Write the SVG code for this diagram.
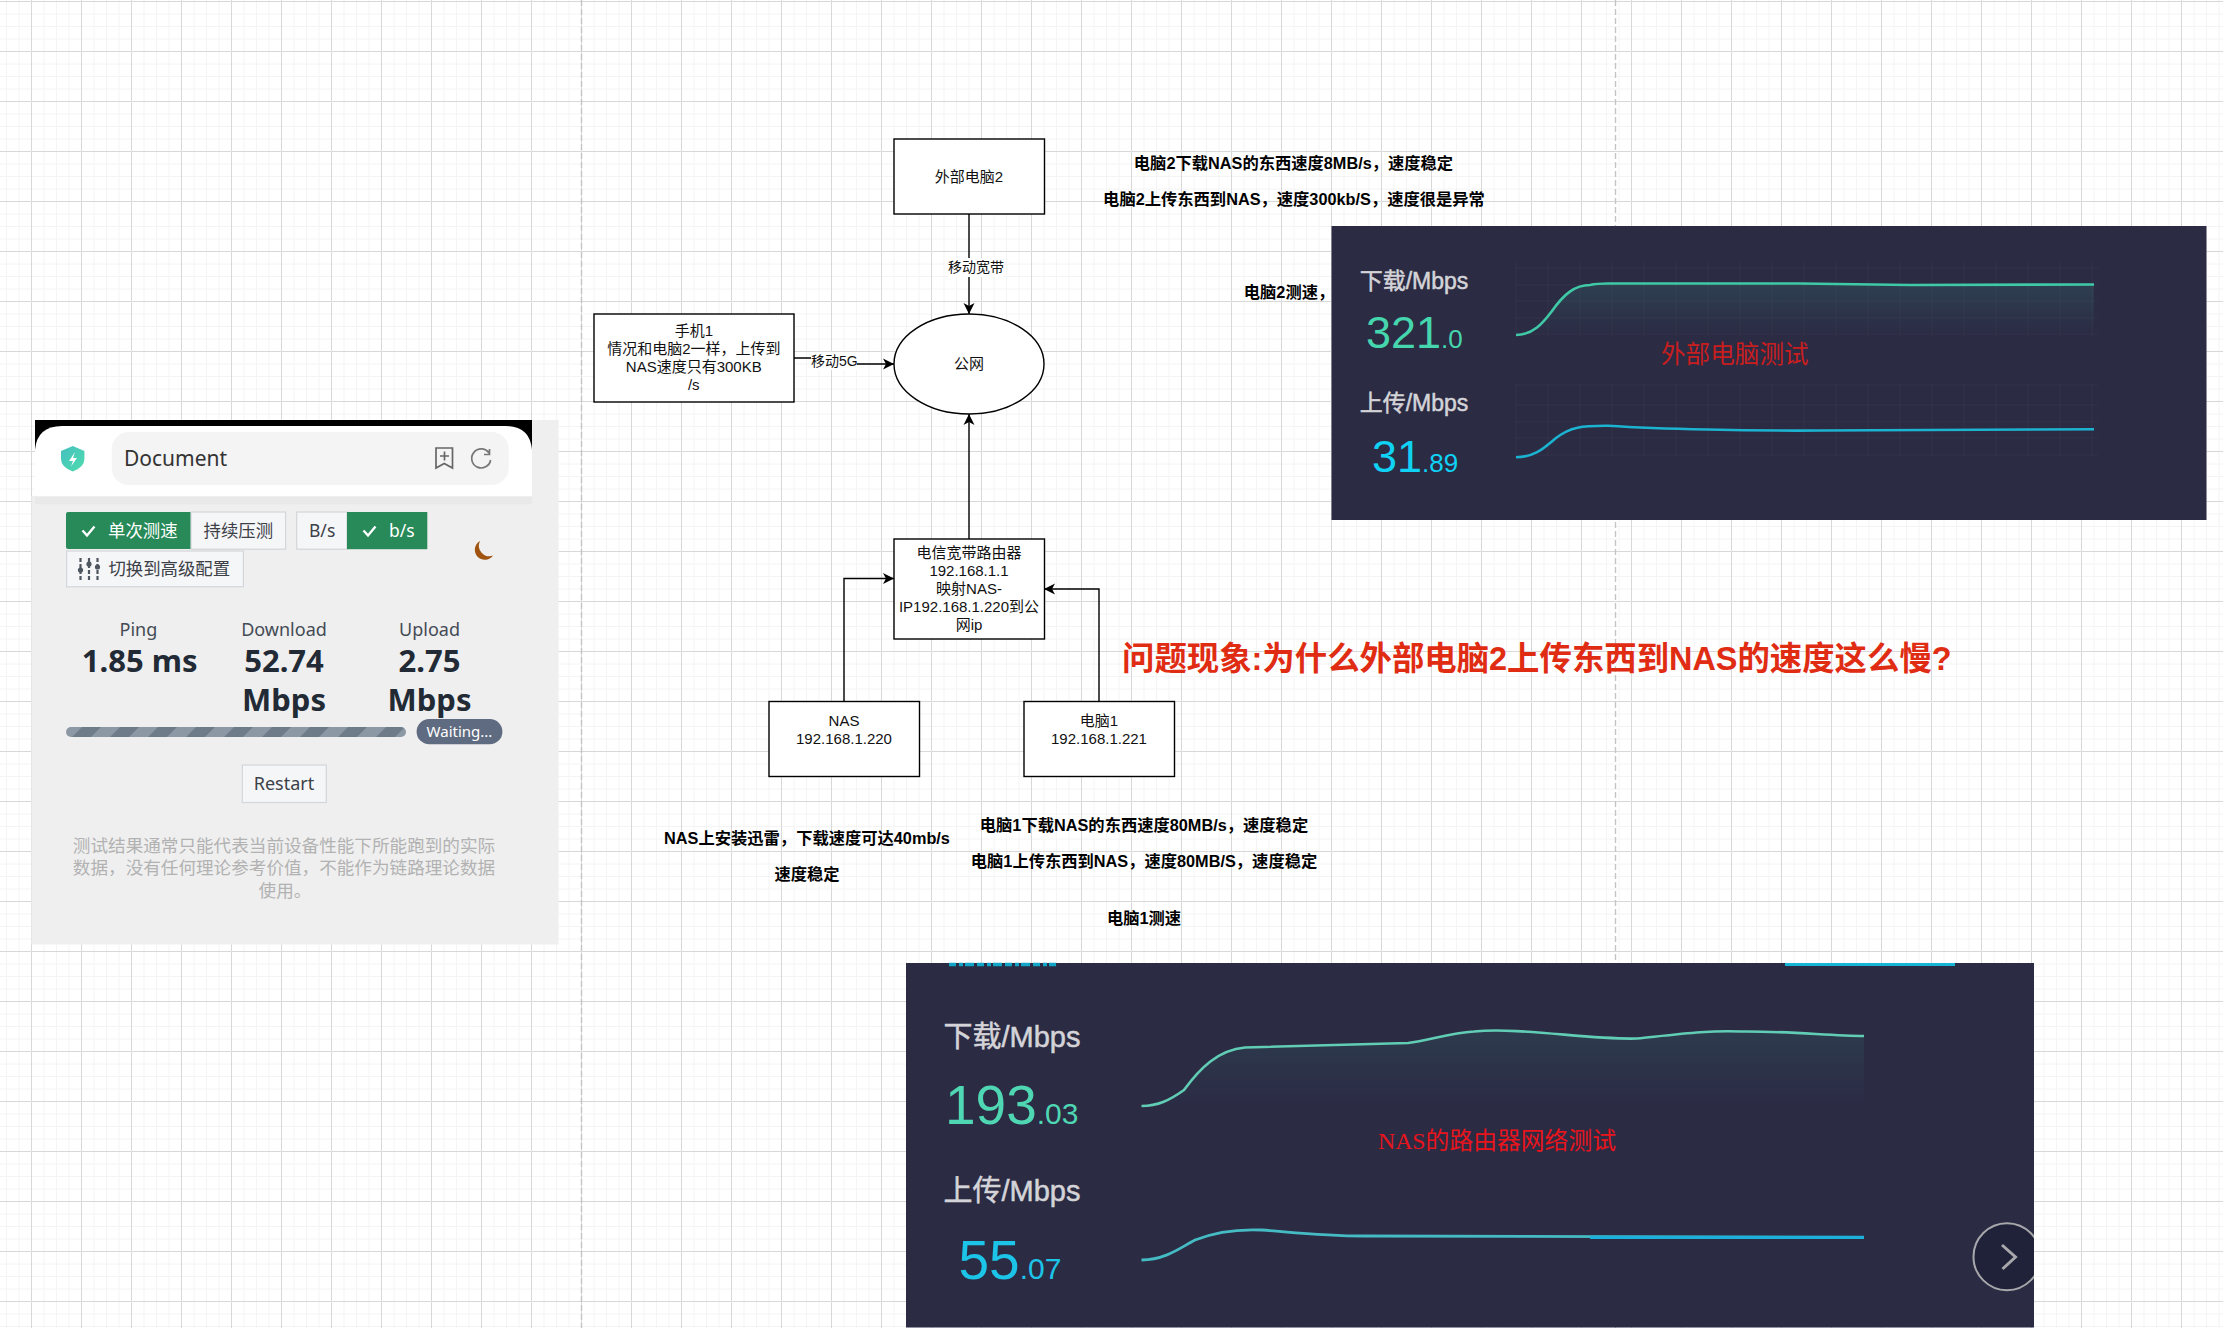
<svg xmlns="http://www.w3.org/2000/svg" width="2223" height="1328" viewBox="0 0 2223 1328">
<style>
text{font-family:"Liberation Sans","Noto Sans CJK SC",sans-serif;fill:#000}
.box{fill:#fff;stroke:#000;stroke-width:1.4}
.t{font-size:15px;text-anchor:middle;fill:#111}
.b{font-size:16.3px;font-weight:700;text-anchor:middle;fill:#000}
.e{fill:none;stroke:#000;stroke-width:1.4;marker-end:url(#arr)}
.el{font-size:14px;text-anchor:middle;fill:#111}
.panel{fill:#2b2b44}
.c{text-anchor:middle;fill:#d4d4d8;stroke:#d4d4d8;stroke-width:.5}
.g{font-family:"Noto Sans","Noto Sans CJK SC",sans-serif}
.btn{fill:#f5f6f8;stroke:#d3d6da;stroke-width:1.2}
.grn{fill:#278a58}
.bt{font-size:17.4px;fill:#3c4148}
.wt{font-size:17.4px;fill:#fff}
.chk{fill:none;stroke:#fff;stroke-width:2.4}
.lb{font-size:18px;text-anchor:middle;fill:#444b55}
.val{font-size:30px;font-weight:700;text-anchor:middle;fill:#222a35}
.note{font-size:17.6px;text-anchor:middle;fill:#b2b2b2}
.fg{fill:none;stroke:#fff;stroke-opacity:.03;stroke-width:1}
.tc{fill:none;stroke:#3fc9a6;stroke-width:2.6}
.cc{fill:none;stroke:#1cb3d0;stroke-width:2.6}
</style>
<defs>
<pattern id="grid" patternUnits="userSpaceOnUse" x="31" y="1" width="50" height="50">
<path d="M12.5 0V50M25 0V50M37.5 0V50M0 12.5H50M0 25H50M0 37.5H50" stroke="#f4f4f4" stroke-width="1" fill="none" transform="translate(.5 .5)"/>
<path d="M0 0V50M0 0H50" stroke="#d8d8d8" stroke-width="1" fill="none" transform="translate(.5 .5)"/>
</pattern>
<pattern id="stripe" patternUnits="userSpaceOnUse" x="66" y="727" width="38" height="10">
<rect width="38" height="10" fill="#8d98a5"/>
<polygon points="6,10 16,0 35,0 25,10" fill="#6e7c8a"/>
</pattern>
<marker id="arr" markerUnits="userSpaceOnUse" markerWidth="12" markerHeight="12" viewBox="0 0 12 12" refX="11" refY="6" orient="auto">
<path d="M0 .5L11 6L0 11.5L3 6Z" fill="#000"/>
</marker>
<linearGradient id="fade1" x1="0" y1="0" x2="0" y2="1"><stop offset="0" stop-color="#3fc9a6" stop-opacity=".13"/><stop offset="1" stop-color="#3fc9a6" stop-opacity="0"/></linearGradient>
<linearGradient id="fade3" x1="0" y1="0" x2="0" y2="1"><stop offset="0" stop-color="#3fc9a6" stop-opacity=".1"/><stop offset="1" stop-color="#3fc9a6" stop-opacity="0"/></linearGradient>
<linearGradient id="shield" x1="0" y1="0" x2="1" y2="1"><stop offset="0" stop-color="#45bfc0"/><stop offset="1" stop-color="#4fdcae"/></linearGradient>
<clipPath id="p2clip"><rect x="906" y="963" width="1128" height="365"/></clipPath>
</defs>

<rect width="2223" height="1328" fill="#fff"/>
<rect width="2223" height="1328" fill="url(#grid)"/>
<path d="M581.5 0V1328M1615.5 0V1328" stroke="#c4c4c4" stroke-width="1.4" stroke-dasharray="6 3" fill="none"/>

<g id="speedtest-card">
<path d="M35 420H558.6V944.6H31.4V496H35Z" fill="#efefef"/>
<rect x="35" y="420" width="497" height="30" fill="#000"/>
<path d="M35 496.4V450Q37 426 62 426H505Q530 426 532 450V496.4Z" fill="#fff"/>
<rect x="35" y="496.4" width="497" height="8" fill="#e4e4e4" opacity=".6"/>
<rect x="111.7" y="432" width="397" height="53" rx="17" fill="#f4f4f4"/>
<path d="M72.8 446L84.4 451V459Q84.4 467 72.8 471.6Q61 467 61 459V451Z" fill="url(#shield)"/>
<path d="M75 452L69 461H73L71 466.5L77 458H73Z" fill="#fff"/>
<text class="g" x="124" y="466" font-size="21" style="fill:#333">Document</text>
<path d="M436 448H452.5V468L444.2 463.5L436 468Z M440 456H449M444.5 451.5V460.5" fill="none" stroke="#666" stroke-width="1.7"/>
<path d="M489 453A9.5 9.5 0 1 0 490.6 460M489.5 449V454.5H484" fill="none" stroke="#777" stroke-width="1.7"/>
<path class="grn" d="M68 512H191V549H68Q66 549 66 547V514Q66 512 68 512Z"/>
<path class="chk" d="M82.5 530.5L87 535.5L94.5 526.5"/>
<text class="wt" x="108" y="537">单次测速</text>
<rect class="btn" x="191" y="512" width="94.6" height="37.2"/>
<text class="bt" x="203.5" y="537">持续压测</text>
<rect class="btn" x="296.7" y="512" width="50.3" height="37.2"/>
<text class="g bt" x="309" y="537" style="font-size:17.5px">B/s</text>
<rect class="grn" x="347" y="512" width="80.3" height="37.2"/>
<path class="chk" d="M363.5 530.5L368 535.5L375.5 526.5"/>
<text class="g wt" x="389" y="537" style="font-size:17.5px">b/s</text>
<rect class="btn" x="66.6" y="551" width="176.8" height="35.8"/>
<path d="M80.5 558V580M89 558V580M97.5 558V580" stroke="#4e5660" stroke-width="2.2" stroke-dasharray="4 2" fill="none"/>
<circle cx="80.5" cy="570" r="2.6" fill="#4e5660"/><circle cx="89" cy="564" r="2.6" fill="#4e5660"/><circle cx="97.5" cy="567" r="2.6" fill="#4e5660"/>
<text class="bt" x="108.4" y="575">切换到高级配置</text>
<path d="M480 541A10 10 0 1 0 493 555.5A10.5 10.5 0 0 1 480 541Z" fill="#a0540f"/>
<text class="g lb" x="138.4" y="636">Ping</text>
<text class="g lb" x="284" y="636">Download</text>
<text class="g lb" x="429.5" y="636">Upload</text>
<text class="g val" x="139.7" y="672" style="font-size:31px">1.85 ms</text>
<text class="g val" x="284" y="672" style="font-size:31px">52.74</text>
<text class="g val" x="284" y="711" style="font-size:31px">Mbps</text>
<text class="g val" x="429.5" y="672" style="font-size:31px">2.75</text>
<text class="g val" x="429.5" y="711" style="font-size:31px">Mbps</text>
<rect x="66" y="727" width="340" height="10" rx="5" fill="url(#stripe)"/>
<rect x="416.6" y="719" width="85.8" height="25.3" rx="12.6" fill="#5f6b80"/>
<text class="g" x="459.5" y="737" font-size="15" text-anchor="middle" style="fill:#fff">Waiting...</text>
<rect class="btn" x="242.3" y="765" width="84" height="37.5"/>
<text class="g" x="284" y="790" font-size="18" text-anchor="middle" style="fill:#3c4148">Restart</text>
<text class="note" x="284" y="851.5">测试结果通常只能代表当前设备性能下所能跑到的实际</text>
<text class="note" x="284" y="874">数据，没有任何理论参考价值，不能作为链路理论数据</text>
<text class="note" x="285" y="896.5">使用。</text>
</g>

<g id="connectors">
<path class="e" d="M969 214V314"/>
<path class="e" d="M794 358H844V364H894"/>
<path class="e" d="M969 539V414"/>
<path class="e" d="M844 701.5V578.5H894"/>
<path class="e" d="M1099 701.5V589H1044"/>
<rect x="948" y="258" width="56" height="19" fill="#fff"/>
<text class="el" x="976" y="272">移动宽带</text>
<rect x="811" y="352" width="46" height="18" fill="#fff"/>
<text class="el" x="834.4" y="366">移动5G</text>
</g>

<g id="node-pc2"><rect class="box" x="894" y="139" width="150.5" height="75"/><text class="t" x="969" y="182">外部电脑2</text></g>
<g id="node-phone"><rect class="box" x="594" y="314" width="200" height="88"/>
<text class="t" x="693.8" y="336">手机1</text><text class="t" x="693.8" y="354">情况和电脑2一样，上传到</text><text class="t" x="693.8" y="372">NAS速度只有300KB</text><text class="t" x="693.8" y="390">/s</text></g>
<g id="node-internet"><ellipse class="box" cx="969" cy="364" rx="75" ry="50"/><text class="t" x="969" y="369">公网</text></g>
<g id="node-router"><rect class="box" x="894" y="539" width="150.5" height="100"/>
<text class="t" x="969" y="558">电信宽带路由器</text><text class="t" x="969" y="576">192.168.1.1</text><text class="t" x="969" y="594">映射NAS-</text><text class="t" x="969" y="612">IP192.168.1.220到公</text><text class="t" x="969" y="630">网ip</text></g>
<g id="node-nas"><rect class="box" x="769" y="701.5" width="150.5" height="75"/><text class="t" x="844" y="726">NAS</text><text class="t" x="844" y="744">192.168.1.220</text></g>
<g id="node-pc1"><rect class="box" x="1024" y="701.5" width="150.5" height="75"/><text class="t" x="1099" y="726">电脑1</text><text class="t" x="1099" y="744">192.168.1.221</text></g>

<g id="notes">
<text class="b" x="1293.5" y="169">电脑2下载NAS的东西速度8MB/s，速度稳定</text>
<text class="b" x="1294" y="205">电脑2上传东西到NAS，速度300kb/S，速度很是异常</text>
<text class="b" x="1289" y="298">电脑2测速，</text>
<text class="b" x="807" y="844">NAS上安装迅雷，下载速度可达40mb/s</text>
<text class="b" x="807" y="880">速度稳定</text>
<text class="b" x="1144" y="831">电脑1下载NAS的东西速度80MB/s，速度稳定</text>
<text class="b" x="1144" y="867">电脑1上传东西到NAS，速度80MB/S，速度稳定</text>
<text class="b" x="1144" y="924">电脑1测速</text>
<text x="1122" y="670" font-size="32.4" font-weight="700" style="fill:#e02c12">问题现象:为什么外部电脑2上传东西到NAS的速度这么慢?</text>
</g>

<g id="panel-external">
<rect class="panel" x="1331.5" y="226" width="875" height="294"/>
<path class="fg" d="M1516 268H2098M1516 285H2098M1516 301H2098M1516 318H2098M1516 334H2098M1516 385H2098M1516 405H2098M1516 422H2098M1516 438H2098M1516 455H2098"/>
<path class="fg" d="M1516 262V336M1548 262V336M1580 262V336M1612 262V336M1644 262V336M1676 262V336M1708 262V336M1740 262V336M1772 262V336M1804 262V336M1836 262V336M1868 262V336M1900 262V336M1932 262V336M1964 262V336M1996 262V336M2028 262V336M2060 262V336M2092 262V336"/>
<path class="fg" d="M1516 384V457M1548 384V457M1580 384V457M1612 384V457M1644 384V457M1676 384V457M1708 384V457M1740 384V457M1772 384V457M1804 384V457M1836 384V457M1868 384V457M1900 384V457M1932 384V457M1964 384V457M1996 384V457M2028 384V457M2060 384V457M2092 384V457"/>
<path d="M1516 335C1533 335 1543 323 1552 311C1564 294 1575 285 1590 285Q1597 283.5 1608 283.5L1800 283.5L1910 285L2094 284.5V335Z" fill="url(#fade1)"/>
<path class="tc" d="M1516 335C1533 335 1543 323 1552 311C1564 294 1575 285 1590 285Q1597 283.5 1608 283.5L1800 283.5L1910 285L2094 284.5"/>
<path class="cc" d="M1516 457.3C1535 457 1544 448 1556 438C1570 427 1582 425.5 1608 425.7C1660 429 1750 431 1820 430.5L2094 429.3"/>
<text class="c" x="1414" y="289" font-size="23">下载/Mbps</text>
<text x="1366" y="348" font-size="45" style="fill:#46d6ae">321<tspan font-size="26">.0</tspan></text>
<text class="c" x="1414" y="411" font-size="23">上传/Mbps</text>
<text x="1372" y="471.5" font-size="45" style="fill:#10d2f4">31<tspan font-size="26">.89</tspan></text>
<text x="1661" y="363" font-size="24.6" style="fill:#c81e1e">外部电脑测试</text>
</g>

<g id="panel-nas">
<rect class="panel" x="906" y="963" width="1128" height="364.5"/>
<path d="M949 964.5H1056" stroke="#12a5c8" stroke-width="3.5" stroke-dasharray="7 3 4 2 9 3" fill="none"/>
<rect x="1785" y="963" width="170" height="3" fill="#16b5d6"/>
<path d="M1141.5 1106C1158 1106 1170 1100 1184 1090C1200 1068 1218 1050 1245 1047.5L1408 1043C1430 1040 1450 1033 1474 1031.5C1520 1027 1590 1040 1637 1038.5C1680 1034 1710 1030 1741 1031.5C1790 1031 1830 1036 1864 1036V1106Z" fill="url(#fade3)"/>
<path d="M1141.5 1106C1158 1106 1170 1100 1184 1090C1200 1068 1218 1050 1245 1047.5L1408 1043C1430 1040 1450 1033 1474 1031.5C1520 1027 1590 1040 1637 1038.5C1680 1034 1710 1030 1741 1031.5C1790 1031 1830 1036 1864 1036" fill="none" stroke="#60cdb4" stroke-width="2.6"/>
<path d="M1141.5 1260C1165 1260 1180 1248 1195 1240C1215 1232 1240 1229 1262 1230C1290 1232 1320 1236 1364 1236L1864 1237.3" fill="none" stroke="#45bcc4" stroke-width="2.8"/>
<path d="M1590 1237.3H1864" stroke="#1cb0da" stroke-width="3.2" fill="none"/>
<text class="c" x="1012" y="1047" font-size="29">下载/Mbps</text>
<text x="945" y="1124" font-size="55" style="fill:#4fd6b3">193<tspan font-size="30">.03</tspan></text>
<text class="c" x="1012" y="1201" font-size="29">上传/Mbps</text>
<text x="958.5" y="1279" font-size="55" style="fill:#1cc4e8">55<tspan font-size="30">.07</tspan></text>
<text x="1378" y="1149" font-size="23.8" style="font-family:'Liberation Serif','Noto Sans CJK SC',serif;fill:#e8141c">NAS的路由器网络测试</text>
<g clip-path="url(#p2clip)">
<circle cx="2007" cy="1256.7" r="33.5" fill="#1f2238" stroke="#a8a8ac" stroke-width="2"/>
<path d="M2002 1245L2015.5 1257L2002.5 1269" fill="none" stroke="#a8a8ac" stroke-width="3"/>
</g>
</g>
</svg>
